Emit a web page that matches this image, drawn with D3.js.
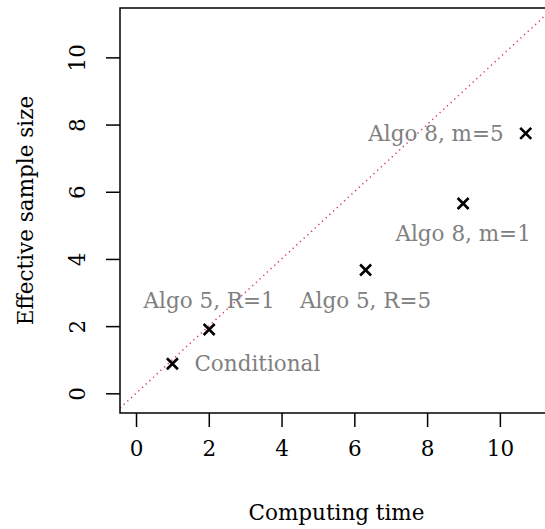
<!DOCTYPE html>
<html>
<head>
<meta charset="utf-8">
<script src="https://cdn.jsdelivr.net/npm/d3@7"></script>
<style>
  html, body { margin: 0; padding: 0; background: #fff; }
  svg { display: block; }
  text { font-family: "DejaVu Serif", serif; }
</style>
</head>
<body>
<svg id="chart" width="545" height="529"></svg>
<script>
// Cost vs. efficiency of the samplers
const methods    = ["Conditional", "Algo 5, R=1", "Algo 5, R=5", "Algo 8, m=1", "Algo 8, m=5"];
const timeValues = [1.0, 2.01, 6.31, 8.99, 10.71];
const essValues  = [0.88, 1.90, 3.67, 5.65, 7.74];
// label placement relative to the point
const labelPos   = ["right", "above", "below", "below", "left"];
const xTicks = [0, 2, 4, 6, 8, 10];
const yTicks = [0, 2, 4, 6, 8, 10];

const svg = d3.select("#chart");
const plot = { left: 120, right: 553, top: 8, bottom: 413 };
const fontSize = 21.5;

const x = d3.scaleLinear().domain([-0.44, 11.46]).range([plot.left, plot.right]);
const y = d3.scaleLinear().domain([-0.586, 11.47]).range([plot.bottom, plot.top]);

svg.append("defs").append("clipPath").attr("id", "plotclip")
  .append("rect")
  .attr("x", plot.left).attr("y", plot.top)
  .attr("width", plot.right - plot.left).attr("height", plot.bottom - plot.top);

// Reference line y = x
const dom = x.domain();
svg.append("line")
  .attr("clip-path", "url(#plotclip)")
  .attr("x1", x(dom[0])).attr("y1", y(dom[0]))
  .attr("x2", x(dom[1])).attr("y2", y(dom[1]))
  .attr("stroke", "#dc3a74")
  .attr("stroke-width", 1.5)
  .attr("stroke-dasharray", "1.3,3.7");

// Axes
const xAxis = d3.axisBottom(x).tickValues(xTicks).tickSize(14).tickPadding(14).tickFormat(d3.format("d"));
const gx = svg.append("g").attr("transform", `translate(0,${plot.bottom})`).call(xAxis);
gx.select(".domain").remove();
gx.selectAll(".tick line").attr("stroke", "#000").attr("stroke-width", 1.5);
gx.selectAll(".tick text").attr("font-family", "DejaVu Serif").attr("font-size", fontSize).attr("fill", "#000");

const yAxis = d3.axisLeft(y).tickValues(yTicks).tickSize(14).tickPadding(0).tickFormat(d3.format("d"));
const gy = svg.append("g").attr("transform", `translate(${plot.left},0)`).call(yAxis);
gy.select(".domain").remove();
gy.selectAll(".tick line").attr("stroke", "#000").attr("stroke-width", 1.5);
gy.selectAll(".tick text")
  .attr("font-family", "DejaVu Serif").attr("font-size", fontSize).attr("fill", "#000")
  .attr("x", 0).attr("dy", null)
  .attr("text-anchor", "middle")
  .attr("dominant-baseline", "central")
  .attr("transform", "translate(-43,0) rotate(-90)");

// Plot box
svg.append("rect")
  .attr("x", plot.left).attr("y", plot.top)
  .attr("width", plot.right - plot.left).attr("height", plot.bottom - plot.top)
  .attr("fill", "none").attr("stroke", "#000").attr("stroke-width", 1.5);

// Axis titles
svg.append("text")
  .attr("x", (plot.left + plot.right) / 2).attr("y", 512)
  .attr("text-anchor", "middle").attr("dominant-baseline", "central")
  .attr("font-size", fontSize).attr("fill", "#000")
  .text("Computing time");

svg.append("text")
  .attr("transform", `translate(25,${(plot.top + plot.bottom) / 2}) rotate(-90)`)
  .attr("text-anchor", "middle").attr("dominant-baseline", "central")
  .attr("font-size", fontSize).attr("fill", "#000")
  .text("Effective sample size");

// Points (x markers)
const data = methods.map((m, i) => ({ name: m, t: timeValues[i], e: essValues[i], pos: labelPos[i] }));
const r = 5.5;
const pts = svg.append("g").attr("stroke", "#000").attr("stroke-width", 2.6).attr("stroke-linecap", "butt");
data.forEach(d => {
  const cx = x(d.t), cy = y(d.e);
  pts.append("path").attr("d", `M${cx - r},${cy - r}L${cx + r},${cy + r}M${cx - r},${cy + r}L${cx + r},${cy - r}`);
});

// Labels
const off = 22;
svg.append("g").selectAll("text").data(data).join("text")
  .attr("x", d => x(d.t) + (d.pos === "right" ? off : d.pos === "left" ? -off : 0))
  .attr("y", d => y(d.e) + (d.pos === "above" ? -29 : d.pos === "below" ? 30 : 0))
  .attr("text-anchor", d => d.pos === "right" ? "start" : d.pos === "left" ? "end" : "middle")
  .attr("dominant-baseline", "central")
  .attr("font-size", fontSize)
  .attr("fill", "#808080")
  .text(d => d.name);
</script>
</body>
</html>
